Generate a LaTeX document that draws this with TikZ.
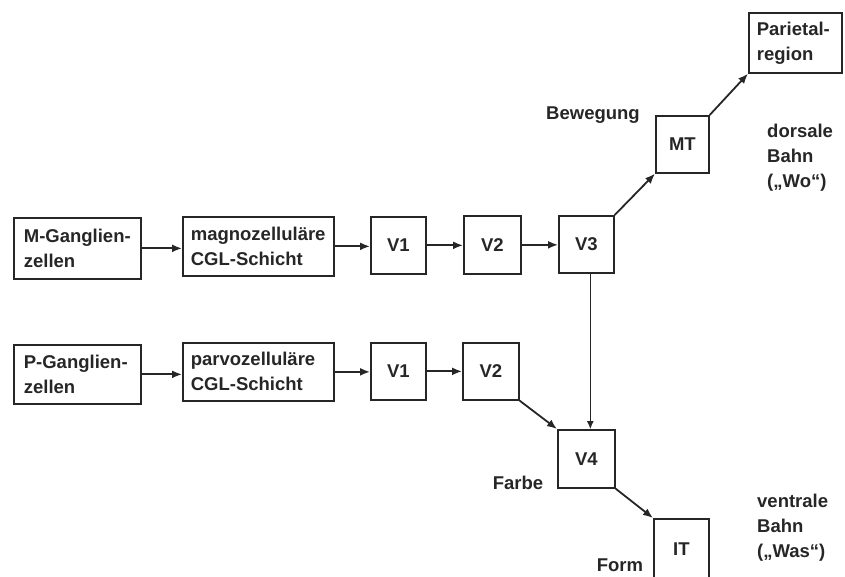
\documentclass[tikz,border=0pt]{standalone}
\usepackage{fontspec}
\setmainfont{Liberation Sans}
\usetikzlibrary{arrows.meta}
\begin{document}
\begin{tikzpicture}[x={(1pt,0pt)},y={(0pt,-1pt)},
  every node/.style={font=\fontsize{18.5}{25}\selectfont\bfseries, text=black!85},
  box/.style={draw=black!85, line width=1.7pt, inner sep=0pt, anchor=north west},
  lbl/.style={inner sep=0pt},
  conn/.style={line width=1.8pt, draw=black!85, -{Latex[length=10pt,width=8pt]}},
  thin/.style={line width=0.9pt, draw=black!85, -{Latex[length=8pt,width=7pt]}}]
\useasboundingbox (0,0) rectangle (845,576);
\clip (0,0) rectangle (845,576);
% top row
\node[box, minimum width=127pt, minimum height=61pt, text width=107pt, align=left] (MG) at (13,217) {M-Ganglien-\\zellen};
\node[box, minimum width=151pt, minimum height=59pt, text width=135pt, align=left] (magno) at (182,216) {magnozelluläre\\CGL-Schicht};
\node[box, minimum width=55pt, minimum height=57pt] (V1a) at (370,216) {V1};
\node[box, minimum width=57pt, minimum height=58pt] (V2a) at (463,215) {V2};
\node[box, minimum width=55pt, minimum height=57pt] (V3) at (558,215) {V3};
\node[box, minimum width=53pt, minimum height=57pt] (MT) at (655,115) {MT};
\node[box, minimum width=93pt, minimum height=60pt, text width=77pt, align=left] (Par) at (748,12) {Parietal-\\region};
% bottom row
\node[box, minimum width=127pt, minimum height=59pt, text width=107pt, align=left] (PG) at (13,344) {P-Ganglien-\\zellen};
\node[box, minimum width=151pt, minimum height=58pt, text width=135pt, align=left] (parvo) at (182,342) {parvozelluläre\\CGL-Schicht};
\node[box, minimum width=55pt, minimum height=57pt] (V1b) at (370,342) {V1};
\node[box, minimum width=56pt, minimum height=57pt] (V2b) at (462,342) {V2};
\node[box, minimum width=57pt, minimum height=58pt] (V4) at (557,429) {V4};
\node[box, minimum width=55pt, minimum height=60pt] (IT) at (653,518) {IT};
% labels
\node[lbl] (bew) at (593,115) {Bewegung};
\node[lbl] (farbe) at (518,483) {Farbe};
\node[lbl] (form) at (620,565) {Form};
\node[lbl, anchor=west, align=left] (dors) at (767,158) {dorsale\\Bahn\\(„Wo“)};
\node[lbl, anchor=west, align=left] (ventr) at (757,528) {ventrale\\Bahn\\(„Was“)};
% connectors
\draw[conn] (MG.east) -- (magno.west |- MG.east);
\draw[conn] (magno.east) -- (V1a.west |- magno.east);
\draw[conn] (V1a.east) -- (V2a.west |- V1a.east);
\draw[conn] (V2a.east) -- (V3.west |- V2a.east);
\draw[conn] (V3.north east) -- (MT.south west);
\draw[conn] (MT.north east) -- (Par.south west);
\draw[conn] (PG.east) -- (parvo.west |- PG.east);
\draw[conn] (parvo.east) -- (V1b.west |- parvo.east);
\draw[conn] (V1b.east) -- (V2b.west |- V1b.east);
\draw[conn] (V2b.south east) -- (V4.north west);
\draw[conn] (V4.south east) -- (IT.north west);
\draw[thin] ([xshift=4pt]V3.south) -- ([xshift=4pt]V4.north);
\end{tikzpicture}
\end{document}
